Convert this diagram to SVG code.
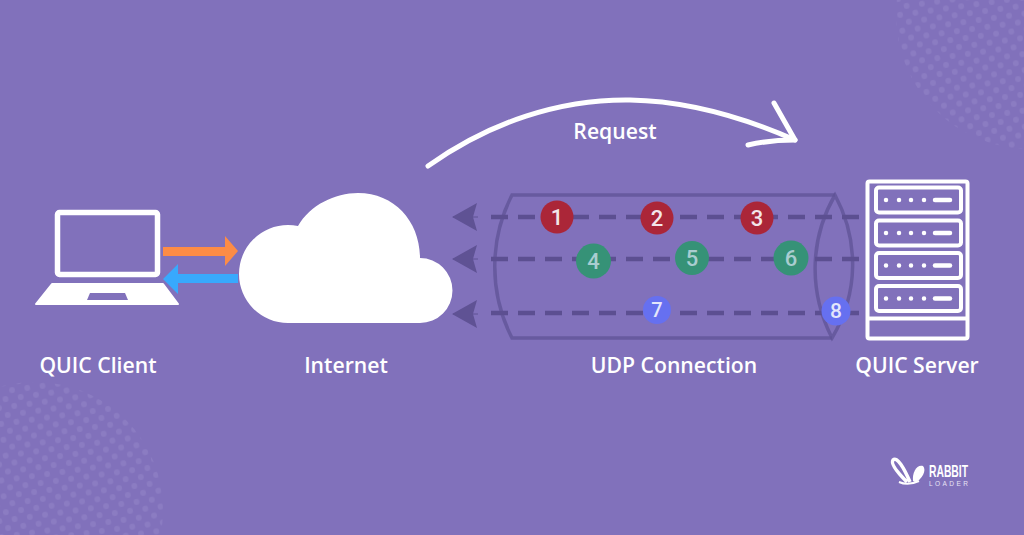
<svg xmlns="http://www.w3.org/2000/svg" width="1024" height="535" viewBox="0 0 1024 535">
<style>
.lbl{font-family:"Open Sans","Liberation Sans",sans-serif;font-weight:600;font-size:21.200px;fill:#fff;text-anchor:middle}
.num{font-family:"Roboto","Liberation Sans",sans-serif;font-weight:500;font-size:22px;text-anchor:middle}
.dash{fill:none;stroke:#5c4f91;stroke-width:4.500;stroke-dasharray:17 10}
.tube{fill:none;stroke:#5f5396;stroke-width:3.500;opacity:.75}
.w{fill:none;stroke:#fff;stroke-linejoin:round}
.wf{fill:#fff}
</style>
<defs>
<pattern id="dots" width="15.400" height="16" patternUnits="userSpaceOnUse" patternTransform="rotate(-8)">
<circle cx="3.800" cy="4" r="2.900" fill="#8b7cc2"/><circle cx="11.500" cy="12" r="2.900" fill="#8b7cc2"/>
</pattern>
<marker id="head" markerWidth="26" markerHeight="30" refX="1" refY="15" orient="auto" markerUnits="userSpaceOnUse">
<path d="M0 15 25 1 21 15 25 29Z" fill="#5f5294"/>
</marker>
</defs>
<rect width="1024" height="535" fill="#8171bb"/>
<circle cx="1030" cy="15" r="134" fill="url(#dots)"/>
<circle cx="35" cy="510" r="128" fill="url(#dots)"/>

<g id="connectors">
<path d="M428 166C490 122 560 99 630 100C690 101 745 118 795 140" fill="none" stroke="#fff" stroke-width="5" stroke-linecap="round"/>
<path d="M774 103 795 140Q770 140 748 145" fill="none" stroke="#fff" stroke-width="5" stroke-linecap="round" stroke-linejoin="round"/>
<g id="udp-tube">
<path class="tube" d="M835 195H512C489 240 489 293 512 338H832"/>
<path class="tube" d="M835 195C809 240 809 293 832 338C859 293 859 240 835 195Z"/>
</g>
<path d="M453 217H478" stroke="#5f5294" marker-start="url(#head)"/>
<path d="M453 259H478" stroke="#5f5294" marker-start="url(#head)"/>
<path d="M453 314H478" stroke="#5f5294" marker-start="url(#head)"/>
<path class="dash" d="M491 217H862"/>
<path class="dash" d="M491 259H862"/>
<path class="dash" d="M491 313H862"/>
<path d="M163 247H225V236L238 251 225 266V256H163Z" fill="#fd8c46"/>
<path d="M238 274H178V264L163 279 178 294V283H238Z" fill="#38a9fd"/>
</g>

<g id="packet-1"><circle cx="557" cy="217" r="16.500" fill="#ab2638"/><text class="num" x="557" y="225" fill="#f3e6ea">1</text></g>
<g id="packet-2"><circle cx="657" cy="218" r="16.500" fill="#ab2638"/><text class="num" x="657" y="226" fill="#f3e6ea">2</text></g>
<g id="packet-3"><circle cx="757" cy="218" r="16.500" fill="#ab2638"/><text class="num" x="757" y="226" fill="#f3e6ea">3</text></g>
<g id="packet-4"><circle cx="593.500" cy="261" r="17.500" fill="#369277"/><text class="num" x="593.500" y="269" fill="#a9cdd0">4</text></g>
<g id="packet-5"><circle cx="692" cy="258" r="17" fill="#369277"/><text class="num" x="692" y="266" fill="#a9cdd0">5</text></g>
<g id="packet-6"><circle cx="791" cy="258" r="17.500" fill="#369277"/><text class="num" x="791" y="266" fill="#a9cdd0">6</text></g>
<g id="packet-7"><circle cx="657" cy="310" r="14" fill="#6670f0"/><text class="num" x="657" y="317" fill="#e4e6fb" style="font-size:20px">7</text></g>
<g id="packet-8"><circle cx="836" cy="311" r="14.500" fill="#6670f0"/><text class="num" x="836" y="318" fill="#e4e6fb" style="font-size:21px">8</text></g>

<g id="quic-client">
<rect class="w" x="57.500" y="212.500" width="100" height="62" rx="2" stroke-width="5.500"/>
<path class="wf" stroke="#fff" stroke-linejoin="round" stroke-width="2" d="M52 284H163L178 304H36Z"/>
<path d="M90 293H125L128 300H87Z" fill="#8171bb"/>
<text class="lbl" x="98" y="372.500">QUIC Client</text>
</g>

<g id="internet">
<path class="wf" d="M288 323A49 49 0 0 1 288 225Q293 225 298 226C310 205 335 193 358 193C395 193 420 222 420 258A32.500 32.500 0 0 1 420 323Z"/>
<text class="lbl" x="346" y="372.500">Internet</text>
</g>

<g id="quic-server">
<rect class="w" x="867.500" y="181.500" width="100" height="157" rx="2" stroke-width="4"/>
<path d="M868 318.500H967" stroke="#fff" stroke-width="4"/>
<g id="rack-units">
<g id="unit-1"><rect class="w" x="876" y="187.500" width="85" height="25" rx="3" stroke-width="4"/>
<path d="M886 200h.01M899 200h.01M911 200h.01M924 200h.01" stroke="#fff" stroke-width="4.500" stroke-linecap="round"/><path d="M935 200H950" stroke="#fff" stroke-width="4.500" stroke-linecap="round"/></g>
<g id="unit-2"><rect class="w" x="876" y="220.500" width="85" height="25" rx="3" stroke-width="4"/>
<path d="M886 233h.01M899 233h.01M911 233h.01M924 233h.01" stroke="#fff" stroke-width="4.500" stroke-linecap="round"/><path d="M935 233H950" stroke="#fff" stroke-width="4.500" stroke-linecap="round"/></g>
<g id="unit-3"><rect class="w" x="876" y="253" width="85" height="25" rx="3" stroke-width="4"/>
<path d="M886 265.500h.01M899 265.500h.01M911 265.500h.01M924 265.500h.01" stroke="#fff" stroke-width="4.500" stroke-linecap="round"/><path d="M935 265.500H950" stroke="#fff" stroke-width="4.500" stroke-linecap="round"/></g>
<g id="unit-4"><rect class="w" x="876" y="286" width="85" height="25" rx="3" stroke-width="4"/>
<path d="M886 298.500h.01M899 298.500h.01M911 298.500h.01M924 298.500h.01" stroke="#fff" stroke-width="4.500" stroke-linecap="round"/><path d="M935 298.500H950" stroke="#fff" stroke-width="4.500" stroke-linecap="round"/></g>
</g>
<text class="lbl" x="917" y="372.500">QUIC Server</text>
</g>

<g id="request-label"><text class="lbl" x="615" y="139">Request</text></g>
<g id="udp-label"><text class="lbl" x="674" y="372.500">UDP Connection</text></g>

<g id="logo">
<path d="M907 482C899 474 890 464 893 460C897 456 904 468 910 482" fill="none" stroke="#fff" stroke-width="3.500"/>
<path d="M913 481C912 472 917 464 923 466C927 470 922 480 915 482Z" fill="#fff"/>
<path d="M899 482Q908 486 919 481" fill="none" stroke="#fff" stroke-width="2"/>
<text x="929" y="477" font-family="'Liberation Sans',sans-serif" font-weight="700" font-size="17" fill="#fff" textLength="39" lengthAdjust="spacingAndGlyphs">RABBIT</text>
<text x="929" y="486" font-family="'Liberation Sans',sans-serif" font-size="6.500" fill="#e8e4f5" textLength="39">LOADER</text>
</g>
</svg>
